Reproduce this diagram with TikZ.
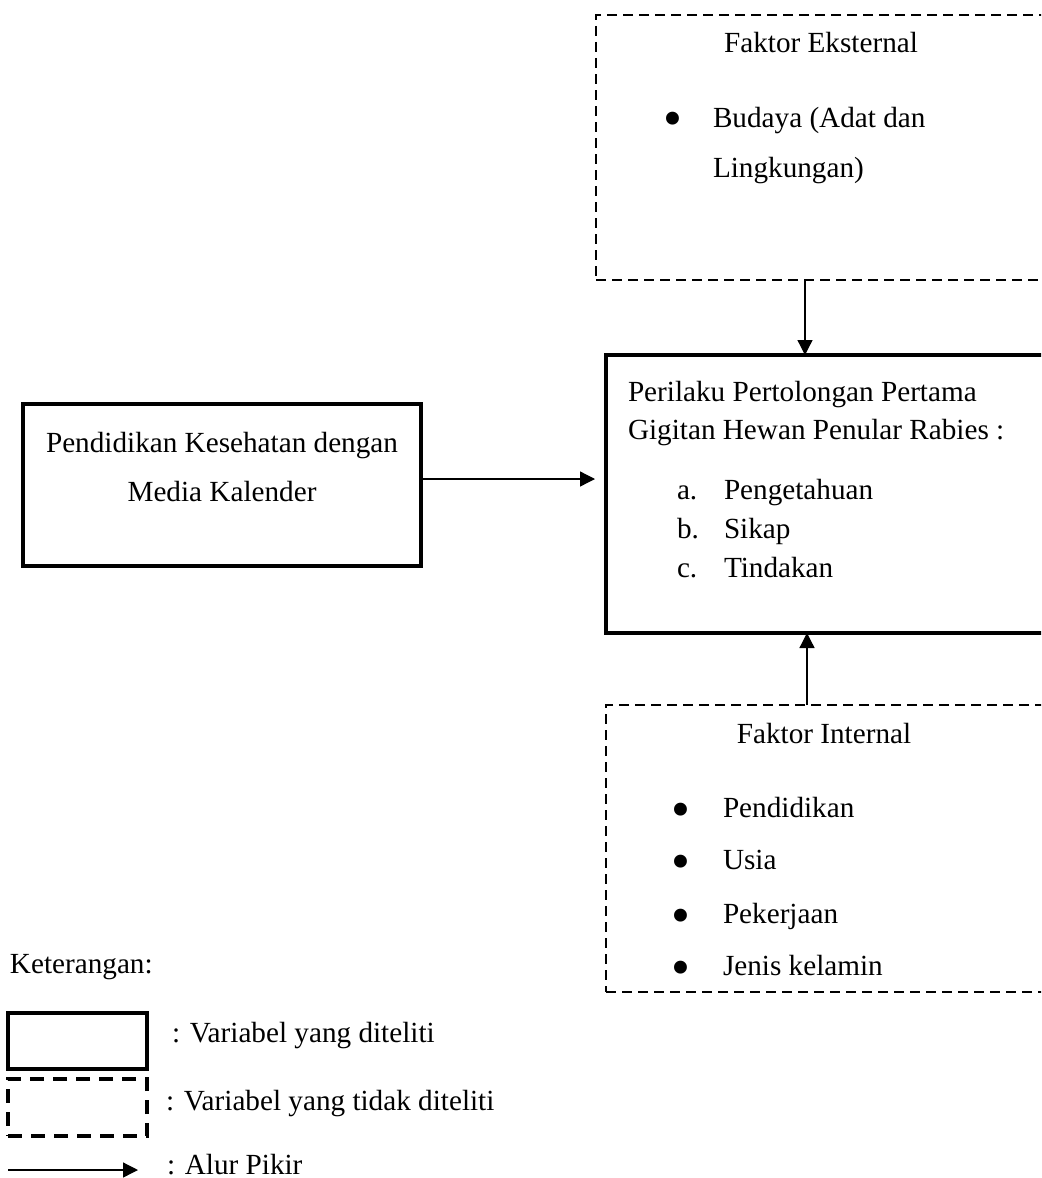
\documentclass[tikz,border=0pt]{standalone}
\usepackage{fontspec}
\setmainfont{Liberation Serif}
\usetikzlibrary{arrows.meta}
\begin{document}
\begin{tikzpicture}[x=0.5pt,y=-0.5pt,
  every node/.style={font=\fontsize{14.6}{17}\selectfont, inner sep=0pt, outer sep=0pt},
  boxsolid/.style={draw, line width=1.6pt, anchor=north west, rectangle},
  boxdash/.style={draw, line width=1.3pt, dash pattern=on 5pt off 3pt, anchor=north west, rectangle},
  legdash/.style={draw, line width=1.7pt, dash pattern=on 7pt off 4.5pt, anchor=north west, rectangle},
  txt/.style={anchor=base west},
  ctxt/.style={anchor=base},
  bul/.style={anchor=center, font=\fontsize{27}{27}\selectfont},
  arr/.style={line width=0.65pt, -{Triangle[length=7.5pt,width=7.5pt]}}
]
\clip (0,0) rectangle (1041,1178);
\fill[white] (0,0) rectangle (1041,1178);

% boxes
\node[boxdash, minimum width=227pt, minimum height=132.5pt] (ext) at (596,15) {};
\node[boxsolid, minimum width=220pt, minimum height=139pt] (mid) at (606,355) {};
\node[boxsolid, minimum width=199pt, minimum height=81pt] (left) at (23,404) {};
\node[boxdash, minimum width=222pt, minimum height=143.5pt] (int) at (606,705) {};

% external factor text
\node[ctxt] (extT) at (821,53) {Faktor Eksternal};
\node[bul] (extB1) at (673,124) {\textbullet};
\node[txt] (extL1) at (713,127) {Budaya (Adat dan};
\node[txt] (extL2) at (713,177) {Lingkungan)};

% middle box text
\node[txt] (midL1) at (628,401) {Perilaku Pertolongan Pertama};
\node[txt] (midL2) at (628,439) {Gigitan Hewan Penular Rabies :};
\node[txt] (midA) at (677,499) {a.};
\node[txt] (midAt) at (724,499) {Pengetahuan};
\node[txt] (midB) at (677,538) {b.};
\node[txt] (midBt) at (724,538) {Sikap};
\node[txt] (midC) at (677,577) {c.};
\node[txt] (midCt) at (724,577) {Tindakan};

% left box text
\node[ctxt] (leftL1) at (222,452) {Pendidikan Kesehatan dengan};
\node[ctxt] (leftL2) at (222,501) {Media Kalender};

% internal factor text
\node[ctxt] (intT) at (824,743) {Faktor Internal};
\node[bul] (intB1) at (681,815) {\textbullet};
\node[txt] (intL1) at (723,817) {Pendidikan};
\node[bul] (intB2) at (681,867) {\textbullet};
\node[txt] (intL2) at (723,869) {Usia};
\node[bul] (intB3) at (681,921) {\textbullet};
\node[txt] (intL3) at (723,923) {Pekerjaan};
\node[bul] (intB4) at (681,973) {\textbullet};
\node[txt] (intL4) at (723,975) {Jenis kelamin};

% connectors
\coordinate (hrow) at (0,479);
\coordinate (vtop) at (805,0);
\coordinate (vbot) at (807,0);
\draw[arr, shorten >=5.5pt] (left.east |- hrow) -- (mid.west |- hrow);
\draw[arr] (ext.south -| vtop) -- (mid.north -| vtop);
\draw[arr] (int.north -| vbot) -- (mid.south -| vbot);

% legend
\node[txt] (ket) at (10,973) {Keterangan:};
\node[boxsolid, minimum width=69.5pt, minimum height=28pt] (legS) at (8,1013) {};
\node[txt] (legSt) at (172,1042) {: Variabel yang diteliti};
\node[legdash, minimum width=69.5pt, minimum height=28.5pt] (legD) at (8,1079) {};
\node[txt] (legDt) at (166,1110) {: Variabel yang tidak diteliti};
\coordinate (la1) at (8,1170);
\coordinate (la2) at (138,1170);
\draw[arr] (la1) -- (la2);
\node[txt] (legAt) at (167,1174) {: Alur Pikir};
\end{tikzpicture}
\end{document}
